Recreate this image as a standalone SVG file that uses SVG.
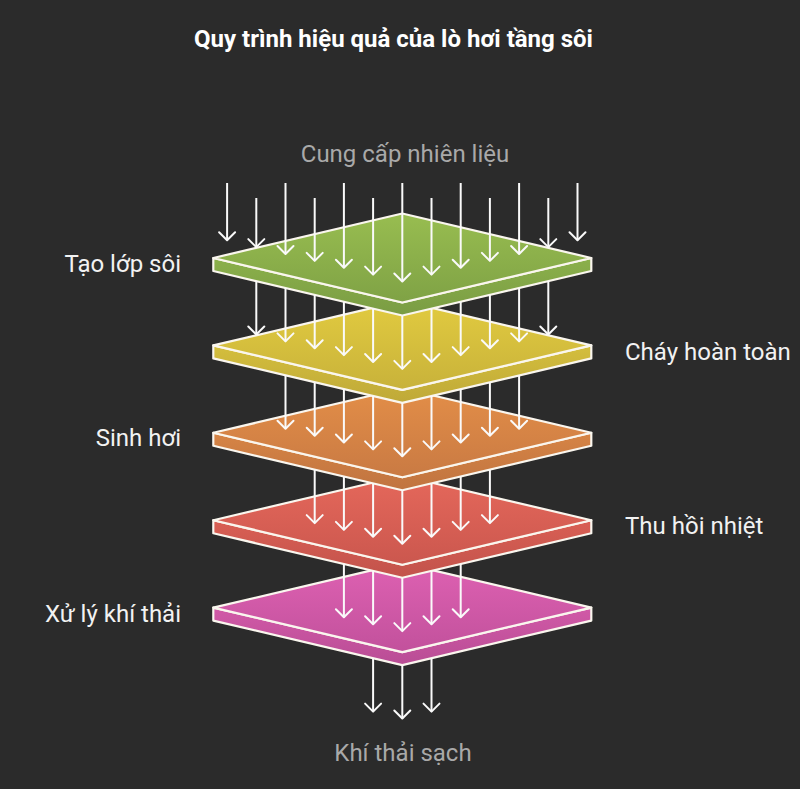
<svg xmlns="http://www.w3.org/2000/svg" xmlns:xlink="http://www.w3.org/1999/xlink" width="800" height="789" viewBox="0 0 800 789">
  <style>
    .bg { fill: #2b2b2b; }
    .title { font-family: Roboto, "Liberation Sans", sans-serif; font-size: 24px; font-weight: bold; fill: #ffffff; }
    .lbl { font-family: Roboto, "Liberation Sans", sans-serif; font-size: 24px; fill: #f2f2f2; }
    .io { font-family: Roboto, "Liberation Sans", sans-serif; font-size: 24px; fill: #a9a9a9; }
    .edge { stroke: #faf6ee; stroke-width: 2.2; stroke-linejoin: round; }
    .arr { stroke: #fafafa; stroke-width: 2; fill: none; marker-end: url(#ah); }
  </style>
  <defs>
    <marker id="ah" viewBox="-10 -10 20 20" refX="0" refY="0" markerWidth="20" markerHeight="20" markerUnits="userSpaceOnUse" orient="auto">
      <path d="M-8,-8 L0,0 L-8,8" fill="none" stroke="#fafafa" stroke-width="2" stroke-linecap="round" stroke-linejoin="round"/>
    </marker>
    <path id="side" d="M-189,0 L0,44.5 L189,0 L189,13 L0,57.5 L-189,13 Z"/>
    <path id="face" d="M-189,0 L0,-44.5 L189,0 L0,44.5 Z"/>
    <linearGradient id="gGreen" x1="0" y1="0" x2="0" y2="1"><stop offset="0" stop-color="#98bd50"/><stop offset="1" stop-color="#7fa245"/></linearGradient>
    <linearGradient id="sGreen" x1="0" y1="0" x2="0" y2="1"><stop offset="0" stop-color="#8bb04b"/><stop offset="1" stop-color="#7a9c43"/></linearGradient>
    <linearGradient id="gYellow" x1="0" y1="0" x2="0" y2="1"><stop offset="0" stop-color="#e2cb40"/><stop offset="1" stop-color="#c8b23a"/></linearGradient>
    <linearGradient id="sYellow" x1="0" y1="0" x2="0" y2="1"><stop offset="0" stop-color="#d4be3d"/><stop offset="1" stop-color="#bfa938"/></linearGradient>
    <linearGradient id="gOrange" x1="0" y1="0" x2="0" y2="1"><stop offset="0" stop-color="#e38e48"/><stop offset="1" stop-color="#c97a43"/></linearGradient>
    <linearGradient id="sOrange" x1="0" y1="0" x2="0" y2="1"><stop offset="0" stop-color="#d68445"/><stop offset="1" stop-color="#c07440"/></linearGradient>
    <linearGradient id="gRed" x1="0" y1="0" x2="0" y2="1"><stop offset="0" stop-color="#e5685b"/><stop offset="1" stop-color="#cb574e"/></linearGradient>
    <linearGradient id="sRed" x1="0" y1="0" x2="0" y2="1"><stop offset="0" stop-color="#d95f54"/><stop offset="1" stop-color="#c2534b"/></linearGradient>
    <linearGradient id="gPink" x1="0" y1="0" x2="0" y2="1"><stop offset="0" stop-color="#de61b2"/><stop offset="1" stop-color="#c2519c"/></linearGradient>
    <linearGradient id="sPink" x1="0" y1="0" x2="0" y2="1"><stop offset="0" stop-color="#d159a7"/><stop offset="1" stop-color="#b94d95"/></linearGradient>
  </defs>

  <rect class="bg" x="0" y="0" width="800" height="789"/>

  <text class="title" x="393.5" y="47" text-anchor="middle">Quy trình hiệu quả của lò hơi tầng sôi</text>

  <g id="input">
    <text class="io" x="405" y="161.5" text-anchor="middle">Cung cấp nhiên liệu</text>
  </g>

  <g id="layer5">
    <use xlink:href="#side" href="#side" class="edge" fill="url(#sPink)" transform="translate(402.3,607.6)"/>
    <use xlink:href="#face" href="#face" class="edge" fill="url(#gPink)" transform="translate(402.3,607.6)"/>
    <text class="lbl" x="181" y="621.5" text-anchor="end">Xử lý khí thải</text>
  </g>
  <g id="layer4">
    <use xlink:href="#side" href="#side" class="edge" fill="url(#sRed)" transform="translate(402.3,520.2)"/>
    <use xlink:href="#face" href="#face" class="edge" fill="url(#gRed)" transform="translate(402.3,520.2)"/>
    <text class="lbl" x="625" y="533.5">Thu hồi nhiệt</text>
  </g>
  <g id="layer3">
    <use xlink:href="#side" href="#side" class="edge" fill="url(#sOrange)" transform="translate(402.3,432.8)"/>
    <use xlink:href="#face" href="#face" class="edge" fill="url(#gOrange)" transform="translate(402.3,432.8)"/>
    <text class="lbl" x="181" y="446" text-anchor="end">Sinh hơi</text>
  </g>
  <g id="layer2">
    <use xlink:href="#side" href="#side" class="edge" fill="url(#sYellow)" transform="translate(402.3,345.4)"/>
    <use xlink:href="#face" href="#face" class="edge" fill="url(#gYellow)" transform="translate(402.3,345.4)"/>
    <text class="lbl" x="625" y="359.5">Cháy hoàn toàn</text>
  </g>
  <g id="layer1">
    <use xlink:href="#side" href="#side" class="edge" fill="url(#sGreen)" transform="translate(402.3,258)"/>
    <use xlink:href="#face" href="#face" class="edge" fill="url(#gGreen)" transform="translate(402.3,258)"/>
    <text class="lbl" x="181" y="272" text-anchor="end">Tạo lớp sôi</text>
  </g>

  <g id="output">
    <text class="io" x="403" y="760.5" text-anchor="middle">Khí thải sạch</text>
  </g>

  <g id="connectors">
    <!-- into layer 1 -->
    <path class="arr" d="M227.1,183 V240.3"/>
    <path class="arr" d="M256.3,198 V247.1"/>
    <path class="arr" d="M285.5,183 V254"/>
    <path class="arr" d="M314.7,198 V260.9"/>
    <path class="arr" d="M343.9,183 V267.7"/>
    <path class="arr" d="M373.1,198 V274.6"/>
    <path class="arr" d="M402.3,183 V281.5"/>
    <path class="arr" d="M431.5,198 V274.6"/>
    <path class="arr" d="M460.7,183 V267.7"/>
    <path class="arr" d="M489.9,198 V260.9"/>
    <path class="arr" d="M519.1,183 V254"/>
    <path class="arr" d="M548.3,198 V247.1"/>
    <path class="arr" d="M577.5,183 V240.3"/>
    <!-- into layer 2 -->
    <path class="arr" d="M256.3,281.1 V334.5"/>
    <path class="arr" d="M285.5,288 V341.4"/>
    <path class="arr" d="M314.7,294.9 V348.3"/>
    <path class="arr" d="M343.9,301.8 V355.1"/>
    <path class="arr" d="M373.1,308.6 V362"/>
    <path class="arr" d="M402.3,315.5 V368.9"/>
    <path class="arr" d="M431.5,308.6 V362"/>
    <path class="arr" d="M460.7,301.8 V355.1"/>
    <path class="arr" d="M489.9,294.9 V348.3"/>
    <path class="arr" d="M519.1,288 V341.4"/>
    <path class="arr" d="M548.3,281.1 V334.5"/>
    <!-- into layer 3 -->
    <path class="arr" d="M285.5,375.4 V428.8"/>
    <path class="arr" d="M314.7,382.3 V435.7"/>
    <path class="arr" d="M343.9,389.2 V442.5"/>
    <path class="arr" d="M373.1,396 V449.4"/>
    <path class="arr" d="M402.3,402.9 V456.3"/>
    <path class="arr" d="M431.5,396 V449.4"/>
    <path class="arr" d="M460.7,389.2 V442.5"/>
    <path class="arr" d="M489.9,382.3 V435.7"/>
    <path class="arr" d="M519.1,375.4 V428.8"/>
    <!-- into layer 4 -->
    <path class="arr" d="M314.7,469.7 V523.1"/>
    <path class="arr" d="M343.9,476.6 V529.9"/>
    <path class="arr" d="M373.1,483.4 V536.8"/>
    <path class="arr" d="M402.3,490.3 V543.7"/>
    <path class="arr" d="M431.5,483.4 V536.8"/>
    <path class="arr" d="M460.7,476.6 V529.9"/>
    <path class="arr" d="M489.9,469.7 V523.1"/>
    <!-- into layer 5 -->
    <path class="arr" d="M343.9,563.9 V617.3"/>
    <path class="arr" d="M373.1,570.8 V624.2"/>
    <path class="arr" d="M402.3,577.7 V631.1"/>
    <path class="arr" d="M431.5,570.8 V624.2"/>
    <path class="arr" d="M460.7,563.9 V617.3"/>
    <!-- output -->
    <path class="arr" d="M373.1,658.2 V711.6"/>
    <path class="arr" d="M402.3,665.1 V718.5"/>
    <path class="arr" d="M431.5,658.2 V711.6"/>
  </g>
</svg>
